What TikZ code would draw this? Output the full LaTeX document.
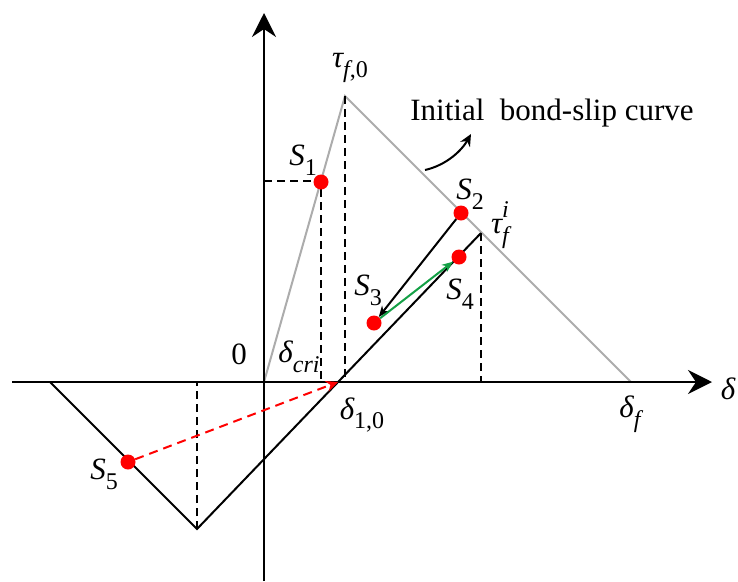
\documentclass[tikz,border=0pt]{standalone}
\usepackage{fontspec}
\setmainfont{Liberation Serif}
\usetikzlibrary{arrows.meta}
\newcommand{\lsub}[1]{\raisebox{-0.32em}{\fontsize{24}{24}\selectfont #1}}
\newcommand{\lsup}[1]{\raisebox{0.5em}{\fontsize{24}{24}\selectfont #1}}
\tikzset{
  axisline/.style={line width=2.4pt, -{Stealth[length=24pt,width=24pt,inset=8pt]}},
  grayline/.style={line width=2pt, color=gray!65},
  blkline/.style={line width=2pt, black},
  dashline/.style={line width=2pt, dash pattern=on 8pt off 5pt},
  reddot/.style={circle, fill=red, inner sep=0pt, minimum size=15pt},
  lbl/.style={font=\fontsize{31}{31}\selectfont\itshape, inner sep=0pt},
  txt/.style={font=\fontsize{31}{31}\selectfont, inner sep=0pt},
}
\definecolor{arrgreen}{RGB}{20,160,70}
\begin{document}
\begin{tikzpicture}[x=1pt,y=-1pt]
\useasboundingbox (0,0) rectangle (738,581);
% key coordinates
\coordinate (O) at (264,382);
\coordinate (P) at (345,96);
\coordinate (F) at (631,382);
\coordinate (T) at (481,233);
\coordinate (D10) at (338,382);
\coordinate (B) at (197,529);
\coordinate (L) at (50,382);
\coordinate (yaxB) at (264,581);
\coordinate (yaxT) at (264,13);
\coordinate (xaxL) at (12,382);
\coordinate (xaxR) at (712,382);
\coordinate (S1y) at (264,181);
\coordinate (S1x) at (321,382);
\coordinate (Px) at (345,382);
\coordinate (Tx) at (481,382);
\coordinate (Bx) at (197,382);
\coordinate (C1) at (425,170);
\coordinate (C2) at (471,134);
% initial curve
\draw[grayline] (O) -- (P) -- (F);
% unloading / reloading lines
\draw[blkline] (L) -- (B) -- (T);
% dashed guides
\draw[dashline] (S1y) -- (321,181) -- (S1x);
\draw[dashline] (P) -- (Px);
\draw[dashline] (T) -- (Tx);
\draw[dashline] (B) -- (Bx);
% axes
\draw[axisline] (yaxB) -- (yaxT);
\draw[axisline] (xaxL) -- (xaxR);
% dots
\node[reddot] (s1) at (321,182) {};
\node[reddot] (s2) at (461,213) {};
\node[reddot] (s3) at (374,323) {};
\node[reddot] (s4) at (459,257) {};
\node[reddot] (s5) at (128,462) {};
% arrows between states
\draw[blkline, -{Stealth[length=11pt,width=9pt]}] (s2) -- (s3);
\draw[line width=2pt, arrgreen, -{Stealth[length=11pt,width=9pt]}] (s3) -- (s4);
\draw[line width=2pt, red, dash pattern=on 9pt off 6pt, -{Stealth[length=12pt,width=11pt]}] (s5) -- (D10);
% curved pointer
\draw[line width=2pt, -{Stealth[length=12pt,width=11pt]}] (C1) .. controls (447,165) and (462,150) .. (C2);
% labels
\node[lbl] (lt0) at (350,68) {τ\lsub{f\upshape,0}};
\node[lbl] (ls1) at (303,160) {S\lsub{\upshape 1}};
\node[lbl] (ls2) at (470,194) {S\lsub{\upshape 2}};
\node[lbl] (lti) at (500,225) {τ\rlap{\lsup{i}}\lsub{f}};
\node[lbl] (ls3) at (368,290) {S\lsub{\upshape 3}};
\node[lbl] (ls4) at (460,294) {S\lsub{\upshape 4}};
\node[lbl] (ls5) at (104,474) {S\lsub{\upshape 5}};
\node[txt] (l0) at (239,354) {0};
\node[lbl] (ldc) at (299,357) {δ\lsub{cri}};
\node[lbl] (ld10) at (362,415) {δ\lsub{\upshape 1,0}};
\node[lbl] (ldf) at (630,414) {δ\lsub{f}};
\node[lbl] (ld) at (728,389) {δ};
\node[txt] (lcurve) at (552,113) {Initial\ \ bond-slip curve};
\end{tikzpicture}
\end{document}
